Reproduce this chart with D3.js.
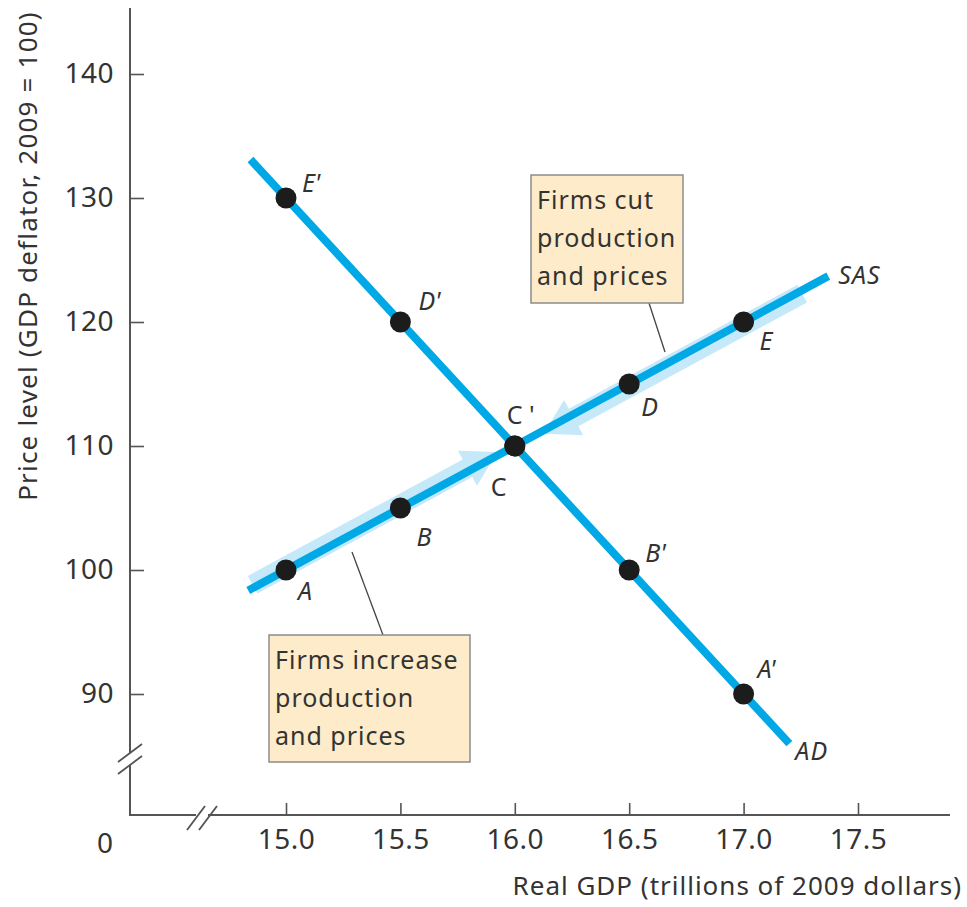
<!DOCTYPE html>
<html><head><meta charset="utf-8">
<script src="https://cdn.jsdelivr.net/npm/d3@7/dist/d3.min.js"></script>
<style>
body{margin:0;background:#fff;}
svg{display:block;}
text{font-family:"Noto Sans",Lato,sans-serif;fill:#333;}
</style></head>
<body>
<svg id="c" width="967" height="907"></svg>
<script>
// ---- data ----
const xTicks = [15.0, 15.5, 16.0, 16.5, 17.0, 17.5];
const yTicks = [90, 100, 110, 120, 130, 140];
const sasPoints = [
  {name:"A", x:15.0, y:100},
  {name:"B", x:15.5, y:105},
  {name:"C", x:16.0, y:110},
  {name:"D", x:16.5, y:115},
  {name:"E", x:17.0, y:120}
];
const adPoints = [
  {name:"E'", x:15.0, y:130},
  {name:"D'", x:15.5, y:120},
  {name:"C '", x:16.0, y:110},
  {name:"B'", x:16.5, y:100},
  {name:"A'", x:17.0, y:90}
];
const sasLine = [{x:14.835, y:98.35},{x:17.37, y:123.7}];
const adLine = [{x:14.845, y:133.1},{x:17.2, y:86.0}];
const bandUp = [{x:14.86, y:98.6},{x:15.93, y:109.3}];   // firms increase
const bandDown = [{x:17.25, y:122.5},{x:16.12, y:111.2}]; // firms cut
const notes = [
  {lines:["Firms cut","production","and prices"]},
  {lines:["Firms increase","production","and prices"]}
];

// ---- layout ----
const svg = d3.select("#c");
const x = d3.scaleLinear().domain([15, 17.5]).range([286, 858]);
const y = d3.scaleLinear().domain([90, 140]).range([694, 74]);
const axisX0 = 130, axisY0 = 815;
const axisCol = "#555";
const blue = "#00a9e6", light = "#c6e9fa";

// axes
const gy = svg.append("g").attr("transform",`translate(${axisX0},0)`)
  .call(d3.axisLeft(y).tickValues(yTicks).tickFormat(d3.format("d")).tickSize(-14).tickPadding(16));
const gx = svg.append("g").attr("transform",`translate(0,${axisY0})`)
  .call(d3.axisBottom(x).tickValues(xTicks).tickFormat(d3.format(".1f")).tickSize(-12).tickPadding(14));
[gx,gy].forEach(g=>{
  g.select(".domain").remove();
  g.selectAll("line").attr("stroke",axisCol).attr("stroke-width",1.6);
  g.selectAll("text").attr("font-size",28).attr("fill","#333").attr("font-family",null).attr("letter-spacing",0.5);
});
// axis lines
svg.append("path").attr("d",`M${axisX0},8V${axisY0}H950`).attr("fill","none").attr("stroke",axisCol).attr("stroke-width",2);
// breaks
function brk(cx,cy,vertical){
  const g = svg.append("g");
  if(vertical){
    g.append("rect").attr("x",cx-4).attr("y",cy-6).attr("width",8).attr("height",12).attr("fill","#fff");
    [-6,6].forEach(o=>g.append("line").attr("x1",cx-12).attr("y1",cy+o+9).attr("x2",cx+12).attr("y2",cy+o-9).attr("stroke",axisCol).attr("stroke-width",1.8));
  } else {
    g.append("rect").attr("x",cx-6).attr("y",cy-4).attr("width",12).attr("height",8).attr("fill","#fff");
    [-6,6].forEach(o=>g.append("line").attr("x1",cx+o-9).attr("y1",cy+12).attr("x2",cx+o+9).attr("y2",cy-12).attr("stroke",axisCol).attr("stroke-width",1.8));
  }
}
brk(axisX0,759,true);
brk(202,818,false);
svg.append("text").attr("x",105).attr("y",853).attr("text-anchor","middle").attr("font-size",28).text("0");

// axis titles
svg.append("text").attr("x",962).attr("y",895).attr("text-anchor","end").attr("font-size",26).attr("letter-spacing",1).text("Real GDP (trillions of 2009 dollars)");
svg.append("text").attr("transform","translate(37,256) rotate(-90)").attr("text-anchor","middle").attr("font-size",26).attr("letter-spacing",1.2).text("Price level (GDP deflator, 2009 = 100)");

// bands with arrows
function band(seg, off){
  const p0=[x(seg[0].x),y(seg[0].y)], p1=[x(seg[1].x),y(seg[1].y)];
  const dx=p1[0]-p0[0], dy=p1[1]-p0[1], L=Math.hypot(dx,dy);
  const ux=dx/L, uy=dy/L, nx=-uy, ny=ux; // normal
  const hw=10, hl=34, hh=20;
  const c0=[p0[0]+nx*off,p0[1]+ny*off], c1=[p1[0]+nx*off,p1[1]+ny*off];
  const b=[c1[0]-ux*hl,c1[1]-uy*hl];
  const pts=[
    [c0[0]+nx*hw,c0[1]+ny*hw],[b[0]+nx*hw,b[1]+ny*hw],[b[0]+nx*hh,b[1]+ny*hh],
    [c1[0],c1[1]],
    [b[0]-nx*hh,b[1]-ny*hh],[b[0]-nx*hw,b[1]-ny*hw],[c0[0]-nx*hw,c0[1]-ny*hw]
  ];
  svg.append("polygon").attr("points",pts.map(p=>p.join(",")).join(" ")).attr("fill",light);
}
band(bandUp,-3);
band(bandDown,-3);

// curves
const line = d3.line().x(d=>x(d.x)).y(d=>y(d.y));
svg.append("path").datum(adLine).attr("d",line).attr("stroke",blue).attr("stroke-width",8).attr("fill","none");
svg.append("path").datum(sasLine).attr("d",line).attr("stroke",blue).attr("stroke-width",8).attr("fill","none");

// points
svg.selectAll("circle.p").data(sasPoints.concat(adPoints)).join("circle")
  .attr("cx",d=>x(d.x)).attr("cy",d=>y(d.y)).attr("r",10.5).attr("fill","#1c1c1c");

// point labels
const offs = {"A":[12,30],"B":[16,38],"C":[-24,50],"D":[12,32],"E":[16,28],
  "E'":[16,-6],"D'":[18,-12],"C '":[-8,-22],"B'":[16,-8],"A'":[14,-16]};
svg.selectAll("text.pl").data(sasPoints.concat(adPoints)).join("text")
  .attr("x",d=>x(d.x)+offs[d.name][0]).attr("y",d=>y(d.y)+offs[d.name][1])
  .attr("font-size",25).attr("font-style",d=>d.name==="C"||d.name==="C '"?"normal":"italic")
  .text(d=>d.name);
svg.append("text").attr("x",x(17.37)+10).attr("y",y(123.7)+8).attr("font-size",25).attr("font-style","italic").attr("letter-spacing",1).text("SAS");
svg.append("text").attr("x",x(17.2)+6).attr("y",y(86)+16).attr("font-size",25).attr("font-style","italic").attr("letter-spacing",1).text("AD");

// annotation boxes
function note(n,bx,by,bw,bh,lx1,ly1,lx2,ly2){
  svg.append("line").attr("x1",lx1).attr("y1",ly1).attr("x2",lx2).attr("y2",ly2).attr("stroke","#444").attr("stroke-width",1.3);
  svg.append("rect").attr("x",bx).attr("y",by).attr("width",bw).attr("height",bh).attr("fill","#fdebc9").attr("stroke","#8c8c8c").attr("stroke-width",1.5);
  n.lines.forEach((t,i)=>svg.append("text").attr("x",bx+6).attr("y",by+34+i*38).attr("font-size",25).attr("letter-spacing",1).text(t));
}
note(notes[0],531,175,152,128,649,303,665,352);
note(notes[1],269,635,201,127,352,552,383,635);
</script>
</body></html>
